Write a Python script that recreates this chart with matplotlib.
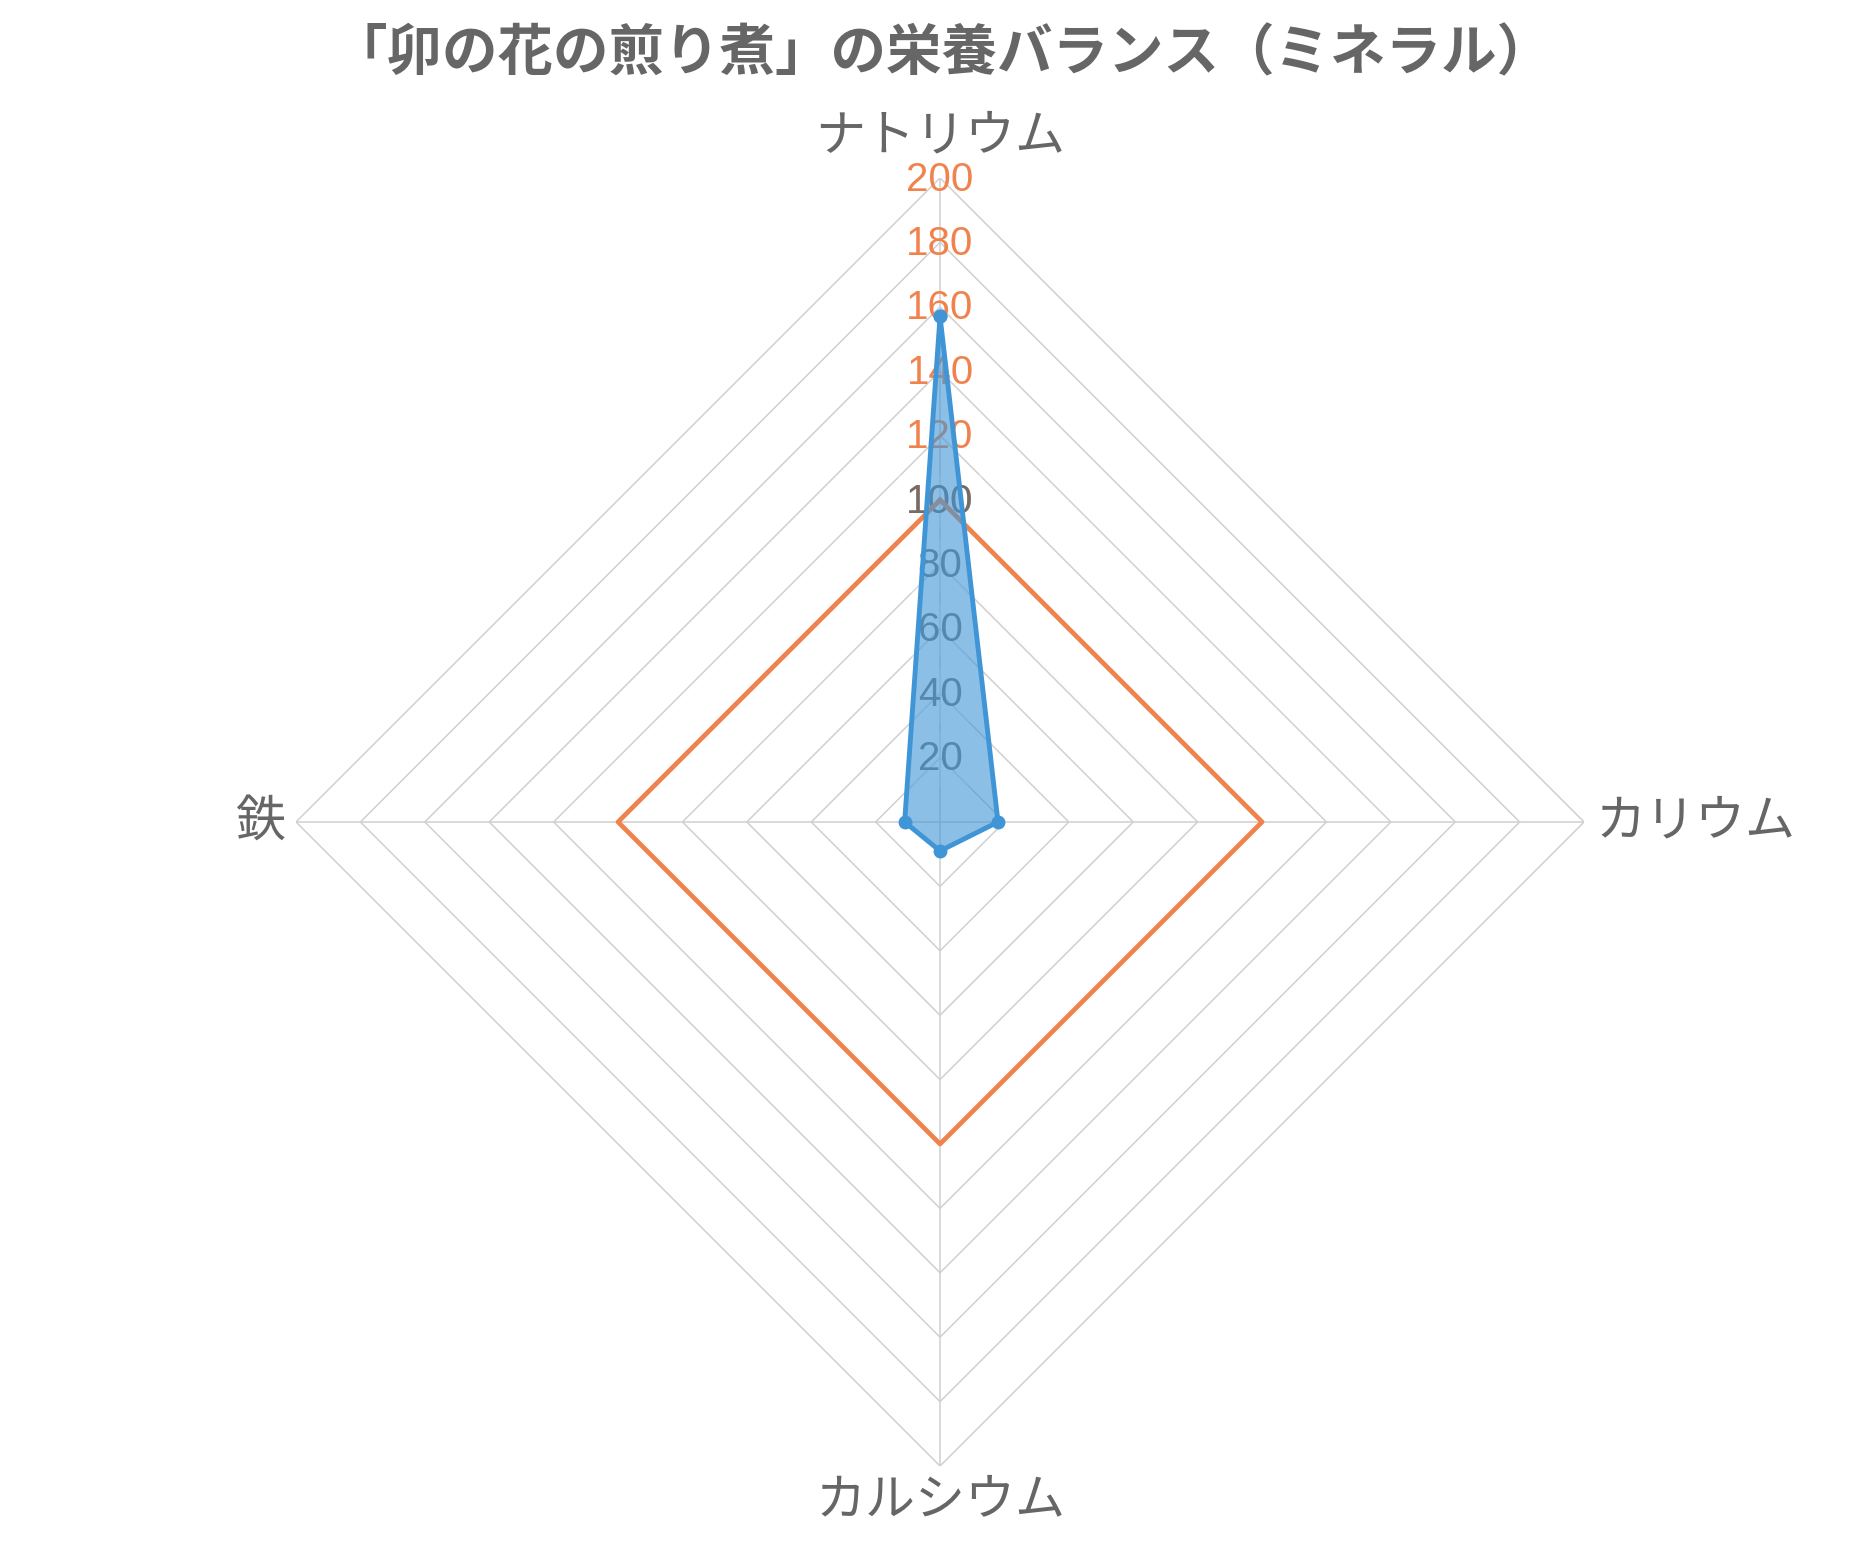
import numpy as np
import matplotlib.pyplot as plt

plt.rcParams['font.family'] = ['Noto Sans CJK JP', 'DejaVu Sans']

title = "「卯の花の煎り煮」の栄養バランス（ミネラル）"
categories = ["ナトリウム", "カリウム", "カルシウム", "鉄"]
food_values = [157, 18, 9, 11]
reference_values = [100, 100, 100, 100]
ticks = [20, 40, 60, 80, 100, 120, 140, 160, 180, 200]
r_max = 200

grid_col = "#d0d0d0"
orange = "#f0834d"
blue = "#3f95d6"
text_col = "#666666"

# angles: top first, clockwise
angles = np.pi / 2 - np.arange(len(categories)) * 2 * np.pi / len(categories)


def to_xy(vals):
    vals = np.asarray(vals, dtype=float)
    x = vals * np.cos(angles)
    y = vals * np.sin(angles)
    return np.append(x, x[0]), np.append(y, y[0])


fig = plt.figure(figsize=(18.7, 15.5), dpi=100)
ax = fig.add_axes([0.1583, 0.0542, 0.6888, 0.8310])
ax.set_xlim(-r_max, r_max)
ax.set_ylim(-r_max, r_max)
ax.axis("off")

# grid rings and spokes
for t in ticks:
    gx, gy = to_xy([t] * len(categories))
    ax.plot(gx, gy, color=grid_col, lw=1.1, zorder=1)
for a in angles:
    ax.plot([0, r_max * np.cos(a)], [0, r_max * np.sin(a)], color=grid_col, lw=1.1, zorder=1)

# tick labels
for t in ticks:
    if t >= 100:
        ax.text(0, t - 0.5, str(t), color=orange, fontsize=29, ha="center", va="center",
                family="Liberation Sans", zorder=2)
for t in ticks:
    if t <= 100:
        ax.text(0, t - 0.5, str(t), color=text_col, fontsize=29, ha="center", va="center",
                family="Liberation Sans", zorder=3, alpha=0.9,
                bbox=dict(boxstyle="square,pad=0.2", fc="white", ec="none", alpha=0.25))

# reference line
rx, ry = to_xy(reference_values)
ax.plot(rx, ry, color=orange, lw=3.4, zorder=4)

# food series
fx, fy = to_xy(food_values)
ax.fill(fx, fy, color=blue, alpha=0.6, lw=0, zorder=5)
ax.plot(fx, fy, color=blue, lw=3.5, marker="o", markersize=9, zorder=6)

# category labels
ax.text(0, 213, categories[0], color=text_col, fontsize=36, ha="center", va="center")
ax.text(203.7, 0, categories[1], color=text_col, fontsize=36, ha="left", va="center")
ax.text(0, -210.6, categories[2], color=text_col, fontsize=36, ha="center", va="center")
ax.text(-203, 0, categories[3], color=text_col, fontsize=36, ha="right", va="center")

fig.text(0.504, 0.965, title, color=text_col, fontsize=40, fontweight="bold",
         ha="center", va="center")

fig.savefig("out.png", dpi=100)
